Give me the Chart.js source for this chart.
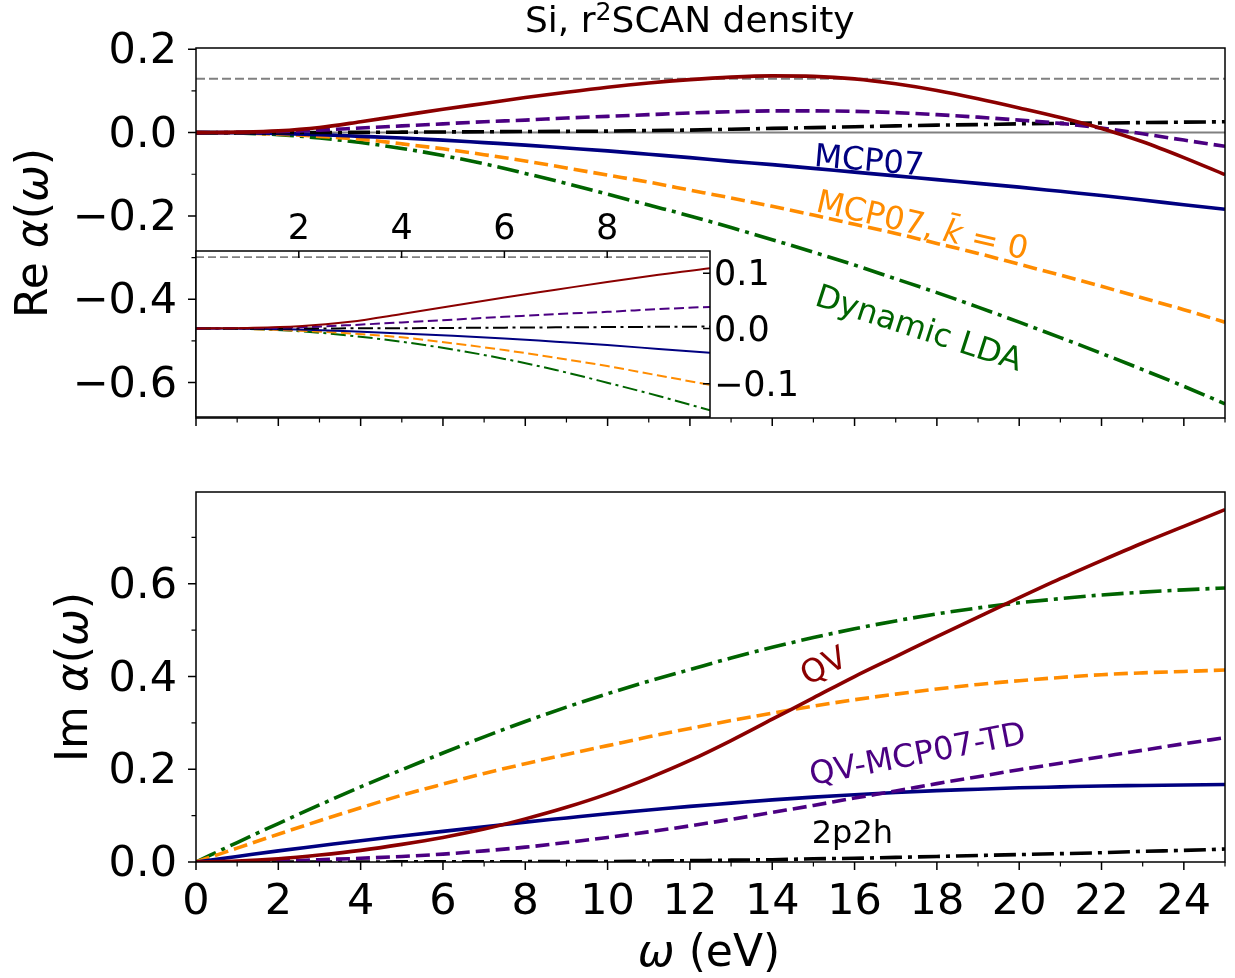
<!DOCTYPE html>
<html>
<head>
<meta charset="utf-8">
<script src="https://cdn.jsdelivr.net/npm/chart.js@4/dist/chart.umd.min.js"></script>
<style>
html,body{margin:0;padding:0;background:#fff;}
#wrap{position:relative;width:1235px;height:978px;overflow:hidden;background:#fff;}
canvas{position:absolute;left:0;top:0;}
</style>
</head>
<body>
<div id="wrap">
<canvas id="cRe" width="1235" height="978"></canvas>
<canvas id="cIm" width="1235" height="978"></canvas>
<canvas id="cIn" width="1235" height="978"></canvas>
</div>
<script>
// ---------------- DATA ----------------
const omega = [0,1,2,3,4,5,6,7,8,9,10,11,12,13,14,15,16,17,18,19,20,21,22,23,24,25];

// Re alpha(omega)
const reQV      = [0,0.001,0.004,0.012,0.026,0.041,0.056,0.070,0.084,0.097,0.109,0.119,0.127,0.133,0.136,0.135,0.129,0.117,0.101,0.081,0.059,0.036,0.010,-0.022,-0.060,-0.101];
const reQVTD    = [0,0.0005,0.002,0.006,0.011,0.016,0.021,0.026,0.030,0.035,0.039,0.043,0.047,0.050,0.052,0.052,0.051,0.048,0.043,0.037,0.030,0.022,0.011,-0.003,-0.018,-0.033];
const re2p2h    = [0,0,0,0.0002,0.0005,0.001,0.0015,0.002,0.0025,0.003,0.0035,0.005,0.006,0.008,0.010,0.012,0.014,0.016,0.018,0.019,0.021,0.022,0.023,0.024,0.025,0.026];
const reMCP07   = [0,-0.0005,-0.002,-0.005,-0.009,-0.013,-0.018,-0.024,-0.030,-0.037,-0.044,-0.052,-0.060,-0.069,-0.077,-0.086,-0.095,-0.104,-0.113,-0.122,-0.131,-0.141,-0.151,-0.162,-0.173,-0.184];
const reMCP07k0 = [0,-0.001,-0.004,-0.009,-0.016,-0.027,-0.039,-0.053,-0.068,-0.085,-0.102,-0.119,-0.138,-0.157,-0.177,-0.198,-0.220,-0.242,-0.266,-0.290,-0.316,-0.342,-0.369,-0.397,-0.425,-0.455];
const reDynLDA  = [0,-0.001,-0.005,-0.013,-0.024,-0.038,-0.055,-0.075,-0.098,-0.122,-0.148,-0.174,-0.200,-0.228,-0.257,-0.287,-0.318,-0.351,-0.384,-0.419,-0.455,-0.492,-0.530,-0.569,-0.609,-0.651];
const reDashedRef = 0.129;
const reZeroRef = 0.0;

// Im alpha(omega)
const imQV      = [0,0.002,0.007,0.015,0.025,0.038,0.053,0.071,0.093,0.118,0.147,0.181,0.219,0.262,0.308,0.354,0.400,0.443,0.486,0.528,0.570,0.611,0.650,0.688,0.724,0.760];
const imQVTD    = [0,0.0005,0.002,0.005,0.008,0.012,0.017,0.024,0.032,0.042,0.053,0.065,0.078,0.092,0.107,0.122,0.138,0.153,0.169,0.184,0.199,0.213,0.227,0.241,0.255,0.268];
const im2p2h    = [0,0,0,0,0,0.0002,0.0003,0.0005,0.0007,0.0009,0.001,0.002,0.003,0.004,0.005,0.007,0.008,0.010,0.012,0.014,0.016,0.018,0.020,0.023,0.025,0.028];
const imMCP07   = [0,0.012,0.024,0.035,0.046,0.056,0.066,0.076,0.086,0.095,0.104,0.112,0.120,0.127,0.134,0.140,0.145,0.150,0.154,0.157,0.160,0.162,0.164,0.165,0.166,0.167];
const imMCP07k0 = [0,0.030,0.060,0.089,0.117,0.144,0.168,0.191,0.212,0.232,0.251,0.270,0.288,0.305,0.321,0.336,0.350,0.362,0.373,0.383,0.391,0.398,0.404,0.408,0.411,0.414];
const imDynLDA  = [0,0.042,0.083,0.123,0.162,0.199,0.235,0.270,0.303,0.334,0.363,0.390,0.415,0.440,0.463,0.484,0.503,0.520,0.535,0.548,0.559,0.568,0.576,0.582,0.587,0.591];

// Ticks
const xTicks      = [0,2,4,6,8,10,12,14,16,18,20,22,24];
const xTickLabels = ['0','2','4','6','8','10','12','14','16','18','20','22','24'];
const xMinor      = [1,3,5,7,9,11,13,15,17,19,21,23,25];
const reYTicks      = [-0.6,-0.4,-0.2,0.0,0.2];
const reYTickLabels = ['\u22120.6','\u22120.4','\u22120.2','0.0','0.2'];
const reYMinor      = [-0.5,-0.3,-0.1,0.1];
const imYTicks      = [0.0,0.2,0.4,0.6];
const imYTickLabels = ['0.0','0.2','0.4','0.6'];
const imYMinor      = [0.1,0.3,0.5,0.7];
const inXTicks      = [2,4,6,8];
const inXTickLabels = ['2','4','6','8'];
const inYTicks      = [-0.1,0.0,0.1];
const inYTickLabels = ['\u22120.1','0.0','0.1'];

// Texts
const TITLE_A = 'Si, r', TITLE_SUP = '2', TITLE_B = 'SCAN density';
const LBL_MCP07 = 'MCP07';
const LBL_K0_A = 'MCP07, ', LBL_K0_K = 'k\u0304', LBL_K0_B = ' = 0';
const LBL_LDA = 'Dynamic LDA';
const LBL_QV = 'QV';
const LBL_QVTD = 'QV-MCP07-TD';
const LBL_2P2H = '2p2h';

// ---------------- STYLE ----------------
const FONT = '"DejaVu Sans", sans-serif';
const C = {qv:'#8b0000', td:'#4b0082', p2h:'#000000', mcp:'#000080', k0:'#ff8c00', lda:'#006400', gray:'#808080'};
const LW = 3.6, LWI = 2;
const DASH = [14,6], DASHDOT = [22,6,4,6];
const DASH_I = [10,4.5], DASHDOT_I = [15,4.5,3,4.5];

function pts(ys){ return omega.map((x,i)=>({x:x, y:ys[i]})); }
function line(label, ys, color, dash, w){
  return {label, data: pts(ys), borderColor: color, borderWidth: w, borderDash: dash,
    pointRadius: 0, fill: false, cubicInterpolationMode: 'monotone', borderCapStyle: 'butt', borderJoinStyle: 'round'};
}
function hline(v, x0, x1, color, dash, w){
  return {label:'ref', data:[{x:x0,y:v},{x:x1,y:v}], borderColor: color, borderWidth: w, borderDash: dash,
    pointRadius: 0, fill: false, tension: 0};
}

// ---------------- PLUGINS ----------------
const deco = {
  id: 'deco',
  beforeDraw(chart, args, o){
    if (!o.bg) return;
    const a = chart.chartArea, ctx = chart.ctx;
    ctx.save(); ctx.fillStyle = '#fff'; ctx.fillRect(a.left, a.top, a.right-a.left, a.bottom-a.top); ctx.restore();
  },
  afterDraw(chart, args, o){
    const {ctx, chartArea: a, scales} = chart;
    const xs = scales.x, ys = scales.y;
    const s = o.dir === 'in' ? -1 : 1;
    ctx.save();
    ctx.strokeStyle = '#000';
    ctx.lineCap = 'butt';
    const doX = (vals, len, w) => {
      ctx.lineWidth = w; ctx.beginPath();
      for (const v of vals){
        const px = xs.getPixelForValue(v);
        if (o.xSide === 'top'){ ctx.moveTo(px, a.top); ctx.lineTo(px, a.top - s*len); }
        else { ctx.moveTo(px, a.bottom); ctx.lineTo(px, a.bottom + s*len); }
      }
      ctx.stroke();
    };
    const doY = (vals, len, w) => {
      ctx.lineWidth = w; ctx.beginPath();
      for (const v of vals){
        const py = ys.getPixelForValue(v);
        if (o.ySide === 'right'){ ctx.moveTo(a.right, py); ctx.lineTo(a.right + s*len, py); }
        else { ctx.moveTo(a.left, py); ctx.lineTo(a.left - s*len, py); }
      }
      ctx.stroke();
    };
    doX(o.xMajor || [], o.majorLen, 1.5);
    doX(o.xMinor || [], o.minorLen, 1.2);
    doY(o.yMajor || [], o.majorLen, 1.5);
    doY(o.yMinor || [], o.minorLen, 1.2);
    ctx.lineWidth = 1.5;
    ctx.strokeRect(a.left, a.top, a.right-a.left, a.bottom-a.top);
    ctx.restore();
  }
};

const rich = {
  id: 'rich',
  afterDraw(chart, args, o){
    const ctx = chart.ctx;
    for (const it of (o.items || [])){
      let x = it.x, y = it.y;
      if (it.data){ x = chart.scales.x.getPixelForValue(it.x); y = chart.scales.y.getPixelForValue(it.y); }
      ctx.save();
      ctx.translate(x, y);
      ctx.rotate((it.rot || 0) * Math.PI / 180);
      ctx.textBaseline = 'alphabetic';
      ctx.textAlign = 'left';
      ctx.fillStyle = it.color || '#000';
      const fontOf = seg => (seg.it ? 'italic ' : '') + (it.size * (seg.sc || 1)) + 'px ' + FONT;
      let total = 0;
      const ws = it.segs.map(seg => { ctx.font = fontOf(seg); const w = ctx.measureText(seg.t).width; total += w; return w; });
      let cx = it.align === 'center' ? -total/2 : 0;
      it.segs.forEach((seg, i) => {
        ctx.font = fontOf(seg);
        ctx.fillText(seg.t, cx, (seg.dy || 0) * it.size);
        cx += ws[i];
      });
      ctx.restore();
    }
  }
};

function baseOpts(){
  return {responsive:false, animation:false, devicePixelRatio:1, events:[],
    plugins:{legend:{display:false}, tooltip:{enabled:false}}};
}
function tickFont(size){ return {family: FONT, size: size}; }

// ---------------- TOP: Re ----------------
{
  const o = baseOpts();
  o.layout = {autoPadding:false, padding:{left:0, top:48, right:10, bottom:978-418-20}};
  o.scales = {
    x: {type:'linear', min:0, max:25, grid:{display:false, drawTicks:false}, border:{display:false},
        ticks:{display:false}, afterFit(s){ s.height = 20; }},
    y: {type:'linear', min:-0.685, max:0.203, grid:{display:false, drawTicks:false}, border:{display:false},
        ticks:{font:tickFont(43), color:'#000', padding:19, labelOffset:3, autoSkip:false,
               callback:(v,i)=>reYTickLabels[i]},
        afterBuildTicks(s){ s.ticks = reYTicks.map(v=>({value:v})); },
        afterFit(s){ s.width = 196; }}
  };
  o.plugins.deco = {dir:'out', xSide:'bottom', ySide:'left', majorLen:8, minorLen:4.5,
    xMajor:xTicks, xMinor:xMinor, yMajor:reYTicks, yMinor:reYMinor};
  o.plugins.rich = {items:[
    {x:525, y:32, size:36, segs:[{t:TITLE_A},{t:TITLE_SUP, sc:0.7, dy:-0.33},{t:TITLE_B}]},
    {x:47, y:233, rot:-90, align:'center', size:44, segs:[{t:'Re '},{t:'\u03b1', it:true},{t:'('},{t:'\u03c9', it:true},{t:')'}]},
    {data:true, x:15.0, y:-0.080, rot:5, size:32, color:C.mcp, segs:[{t:LBL_MCP07}]},
    {data:true, x:15.03, y:-0.188, rot:13, size:32, color:C.k0, segs:[{t:LBL_K0_A},{t:LBL_K0_K, it:true},{t:LBL_K0_B}]},
    {data:true, x:15.0, y:-0.413, rot:18, size:32, color:C.lda, segs:[{t:LBL_LDA}]}
  ]};
  new Chart(document.getElementById('cRe'), {
    type:'line',
    data:{datasets:[
      line('QV', reQV, C.qv, [], LW),
      line('QV-MCP07-TD', reQVTD, C.td, DASH, LW),
      line('2p2h', re2p2h, C.p2h, DASHDOT, LW),
      line('MCP07', reMCP07, C.mcp, [], LW),
      line('MCP07 k0', reMCP07k0, C.k0, DASH, LW),
      line('Dynamic LDA', reDynLDA, C.lda, DASHDOT, LW),
      hline(reDashedRef, 0, 25, C.gray, [9,4], 2),
      hline(reZeroRef, 0, 25, C.gray, [], 2)
    ]},
    options:o,
    plugins:[deco, rich]
  });
}

// ---------------- BOTTOM: Im ----------------
{
  const o = baseOpts();
  o.layout = {autoPadding:false, padding:{left:0, top:492, right:10, bottom:978-862-60}};
  o.scales = {
    x: {type:'linear', min:0, max:25, grid:{display:false, drawTicks:false}, border:{display:false},
        ticks:{font:tickFont(43), color:'#000', padding:15, autoSkip:false, maxRotation:0, minRotation:0,
               callback:(v,i)=>xTickLabels[i]},
        afterBuildTicks(s){ s.ticks = xTicks.map(v=>({value:v})); },
        afterFit(s){ s.height = 60; }},
    y: {type:'linear', min:0, max:0.798, grid:{display:false, drawTicks:false}, border:{display:false},
        ticks:{font:tickFont(43), color:'#000', padding:19, labelOffset:3, autoSkip:false,
               callback:(v,i)=>imYTickLabels[i]},
        afterBuildTicks(s){ s.ticks = imYTicks.map(v=>({value:v})); },
        afterFit(s){ s.width = 196; }}
  };
  o.plugins.deco = {dir:'out', xSide:'bottom', ySide:'left', majorLen:8, minorLen:4.5,
    xMajor:xTicks, xMinor:xMinor, yMajor:imYTicks, yMinor:imYMinor};
  o.plugins.rich = {items:[
    {x:87, y:677, rot:-90, align:'center', size:44, segs:[{t:'Im '},{t:'\u03b1', it:true},{t:'('},{t:'\u03c9', it:true},{t:')'}]},
    {x:709, y:966, align:'center', size:44, segs:[{t:'\u03c9', it:true},{t:' (eV)'}]},
    {data:true, x:14.85, y:0.380, rot:-27, size:32, color:C.qv, segs:[{t:LBL_QV}]},
    {data:true, x:14.96, y:0.166, rot:-11, size:32, color:C.td, segs:[{t:LBL_QVTD}]},
    {data:true, x:14.96, y:0.041, rot:0, size:32, color:C.p2h, segs:[{t:LBL_2P2H}]}
  ]};
  new Chart(document.getElementById('cIm'), {
    type:'line',
    data:{datasets:[
      line('QV', imQV, C.qv, [], LW),
      line('QV-MCP07-TD', imQVTD, C.td, DASH, LW),
      line('2p2h', im2p2h, C.p2h, DASHDOT, LW),
      line('MCP07', imMCP07, C.mcp, [], LW),
      line('MCP07 k0', imMCP07k0, C.k0, DASH, LW),
      line('Dynamic LDA', imDynLDA, C.lda, DASHDOT, LW)
    ]},
    options:o,
    plugins:[deco, rich]
  });
}

// ---------------- INSET ----------------
{
  const o = baseOpts();
  o.layout = {autoPadding:false, padding:{left:196, top:251-50, right:1235-710-110, bottom:978-417}};
  o.scales = {
    x: {type:'linear', position:'top', min:0, max:10, grid:{display:false, drawTicks:false}, border:{display:false},
        ticks:{font:tickFont(35), color:'#000', padding:0, autoSkip:false, maxRotation:0, minRotation:0,
               callback:(v,i)=>inXTickLabels[i]},
        afterBuildTicks(s){ s.ticks = inXTicks.map(v=>({value:v})); },
        afterFit(s){ s.height = 50; }},
    y: {type:'linear', position:'right', min:-0.160, max:0.140, grid:{display:false, drawTicks:false}, border:{display:false},
        ticks:{font:tickFont(35), color:'#000', padding:4, labelOffset:3, autoSkip:false,
               callback:(v,i)=>inYTickLabels[i]},
        afterBuildTicks(s){ s.ticks = inYTicks.map(v=>({value:v})); },
        afterFit(s){ s.width = 110; }}
  };
  o.plugins.deco = {bg:true, dir:'in', xSide:'top', ySide:'right', majorLen:7, minorLen:4,
    xMajor:inXTicks, xMinor:[], yMajor:inYTicks, yMinor:[]};
  new Chart(document.getElementById('cIn'), {
    type:'line',
    data:{datasets:[
      line('QV', reQV, C.qv, [], LWI),
      line('QV-MCP07-TD', reQVTD, C.td, DASH_I, LWI),
      line('2p2h', re2p2h, C.p2h, DASHDOT_I, LWI),
      line('MCP07', reMCP07, C.mcp, [], LWI),
      line('MCP07 k0', reMCP07k0, C.k0, DASH_I, LWI),
      line('Dynamic LDA', reDynLDA, C.lda, DASHDOT_I, LWI),
      hline(reDashedRef, 0, 10, C.gray, [8,4], 1.8)
    ]},
    options:o,
    plugins:[deco]
  });
}
</script>
</body>
</html>
